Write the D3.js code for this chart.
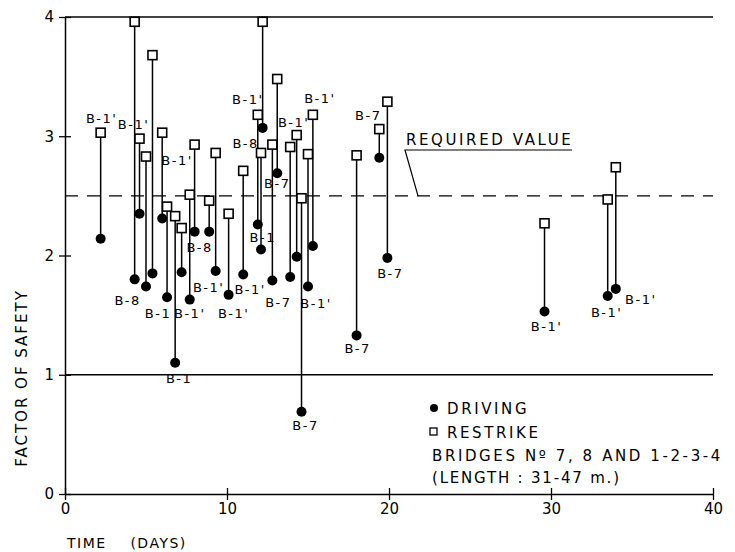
<!DOCTYPE html>
<html lang="en">
<head>
<meta charset="UTF-8">
<title>Factor of safety vs time</title>
<script src="https://d3js.org/d3.v7.min.js"></script>
<style>
  body { margin: 0; background: #fff; }
  svg { display: block; }
  text { font-family: "DejaVu Sans", sans-serif; fill: #000; }
  .lbl { font-size: 13px; letter-spacing: 1.5px; text-anchor: middle; }
  .tick-lbl { font-size: 15px; }
  .note { font-size: 15px; letter-spacing: 2.6px; }
  .axis-title { font-size: 14px; letter-spacing: 1.5px; }
  .y-title { font-size: 15px; letter-spacing: 2px; }
</style>
</head>
<body>
<svg id="chart" width="735" height="552"></svg>
<script>
// time after driving (days), factor of safety at end of driving and at restrike
const days     = [2.2, 4.3, 4.6, 5.0, 5.4, 6.0, 6.3, 6.8, 7.2, 7.7, 8.0, 8.9, 9.3, 10.1, 11.0, 11.9,
                  12.2, 12.1, 12.8, 13.1, 13.9, 14.3, 14.6, 15.0, 15.3, 18.0, 19.4, 19.9, 29.6, 33.5, 34.0];
const restrike = [3.03, 3.96, 2.98, 2.83, 3.68, 3.03, 2.41, 2.33, 2.23, 2.51, 2.93, 2.46, 2.86, 2.35, 2.71, 3.18,
                  3.96, 2.86, 2.93, 3.48, 2.91, 3.01, 2.48, 2.85, 3.18, 2.84, 3.06, 3.29, 2.27, 2.47, 2.74];
const driving  = [2.14, 1.80, 2.35, 1.74, 1.85, 2.31, 1.65, 1.10, 1.86, 1.63, 2.20, 2.20, 1.87, 1.67, 1.84, 2.26,
                  3.07, 2.05, 1.79, 2.69, 1.82, 1.99, 0.69, 1.74, 2.08, 1.33, 2.82, 1.98, 1.53, 1.66, 1.72];

// pile labels: which pair, which end, text
const labelIdx  = [0, 1, 2, 3, 6, 7, 9, 10, 12, 13, 14, 15, 15, 16, 18, 19, 21, 22, 23, 24, 25, 26, 27, 28, 29, 30];
const labelEnd  = ["r","d","r","r","d","d","d","d","d","d","d","r","d","d","d","d","r","d","d","r","d","r","d","d","d","d"];
const labelText = ["B-1'","B-8","B-1'","B-1'","B-1","B-1","B-1'","B-8","B-1'","B-1'","B-1'","B-1'","B-1","B-8",
                   "B-7","B-7","B-1'","B-7","B-1'","B-1'","B-7","B-7","B-7","B-1'","B-1'","B-1'"];
// label placement offsets from the marker (text centre, baseline)
const labelOff  = [[1,-10],[-7,26],[-6,-10],[31,8],[-9,21],[4,20],[0,18],[5,20],[-7,21],[5,23],[7,19],[-10,-11],
                   [5,18],[-17,20],[6,26],[0,15],[-3,-8],[4,18],[8,21],[7,-12],[1,18],[-11,-9],[3,20],[2,19],[-1,21],[25,15]];

const xTicks = [0, 10, 20, 30, 40];
const yTicks = [0, 1, 2, 3, 4];
const requiredValue = 2.5;

const svg = d3.select("#chart");
const x = d3.scaleLinear().domain([0, 40]).range([65, 713]);
const y = d3.scaleLinear().domain([0, 4]).range([494, 17]);

// reference lines at 4 and 1
svg.append("g").selectAll("line").data([4, 1]).enter().append("line")
  .attr("x1", x(0)).attr("x2", x(40))
  .attr("y1", d => y(d)).attr("y2", d => y(d))
  .attr("stroke", "#000").attr("stroke-width", 1.3);

// required value (dashed)
svg.append("line")
  .attr("x1", x(0)).attr("x2", x(40))
  .attr("y1", y(requiredValue)).attr("y2", y(requiredValue))
  .attr("stroke", "#000").attr("stroke-width", 1.2)
  .attr("stroke-dasharray", "13,9");

// axes
const xAxis = svg.append("g")
  .attr("transform", `translate(0,${y(0)})`)
  .call(d3.axisBottom(x).tickValues(xTicks).tickFormat(d3.format("d"))
    .tickSizeInner(6).tickSizeOuter(0).tickPadding(3));
const yAxis = svg.append("g")
  .attr("transform", `translate(${x(0)},0)`)
  .call(d3.axisLeft(y).tickValues(yTicks).tickFormat(d3.format("d"))
    .tickSizeInner(6).tickSizeOuter(0).tickPadding(5));

[xAxis, yAxis].forEach(g => {
  g.select(".domain").attr("stroke-width", 1.5);
  g.selectAll(".tick line").attr("stroke-width", 1.3);
  g.selectAll(".tick text").attr("class", "tick-lbl").attr("font-family", null).attr("font-size", null);
});
// ticks cross the axis
xAxis.selectAll(".tick").append("line").attr("y2", -6).attr("stroke", "#000").attr("stroke-width", 1.3);
yAxis.selectAll(".tick").append("line").attr("x2", 6).attr("stroke", "#000").attr("stroke-width", 1.3);

// pair connectors
svg.append("g").selectAll("line").data(days).enter().append("line")
  .attr("x1", d => x(d)).attr("x2", d => x(d))
  .attr("y1", (d, i) => y(restrike[i])).attr("y2", (d, i) => y(driving[i]))
  .attr("stroke", "#000").attr("stroke-width", 1.5);

// driving
svg.append("g").selectAll("circle").data(days).enter().append("circle")
  .attr("cx", d => x(d)).attr("cy", (d, i) => y(driving[i]))
  .attr("r", 5).attr("fill", "#000");

// restrike
const sq = 9;
svg.append("g").selectAll("rect").data(days).enter().append("rect")
  .attr("x", d => x(d) - sq / 2).attr("y", (d, i) => y(restrike[i]) - sq / 2)
  .attr("width", sq).attr("height", sq)
  .attr("fill", "#fff").attr("stroke", "#000").attr("stroke-width", 1.6);

// pile labels
svg.append("g").selectAll("text").data(labelText).enter().append("text")
  .attr("class", "lbl")
  .attr("x", (t, k) => x(days[labelIdx[k]]) + labelOff[k][0])
  .attr("y", (t, k) => y((labelEnd[k] === "r" ? restrike : driving)[labelIdx[k]]) + labelOff[k][1])
  .text(t => t);

// required value annotation
svg.append("text").attr("class", "note").attr("x", 406).attr("y", 145).text("REQUIRED VALUE");
svg.append("polyline")
  .attr("points", `572,150 405,150 418,${y(requiredValue)}`)
  .attr("fill", "none").attr("stroke", "#000").attr("stroke-width", 1.2);

// legend
svg.append("circle").attr("cx", 434).attr("cy", 408).attr("r", 4).attr("fill", "#000");
svg.append("text").attr("class", "note").attr("x", 447).attr("y", 414).text("DRIVING");
svg.append("rect").attr("x", 430).attr("y", 428).attr("width", 7).attr("height", 7)
  .attr("fill", "#fff").attr("stroke", "#000").attr("stroke-width", 1.3);
svg.append("text").attr("class", "note").attr("x", 447).attr("y", 438).text("RESTRIKE");
svg.append("text").attr("class", "note").attr("x", 432).attr("y", 461).text("BRIDGES Nº 7, 8 AND 1-2-3-4");
svg.append("text").attr("class", "note").attr("x", 432).attr("y", 483)
  .style("letter-spacing", "1.8px").text("(LENGTH : 31-47 m.)");

// axis titles
svg.append("text").attr("class", "axis-title").attr("x", 67).attr("y", 548)
  .attr("xml:space", "preserve").text("TIME    (DAYS)");
svg.append("text").attr("class", "y-title")
  .attr("transform", "translate(27,378) rotate(-90)")
  .attr("text-anchor", "middle").text("FACTOR OF SAFETY");
</script>
</body>
</html>
